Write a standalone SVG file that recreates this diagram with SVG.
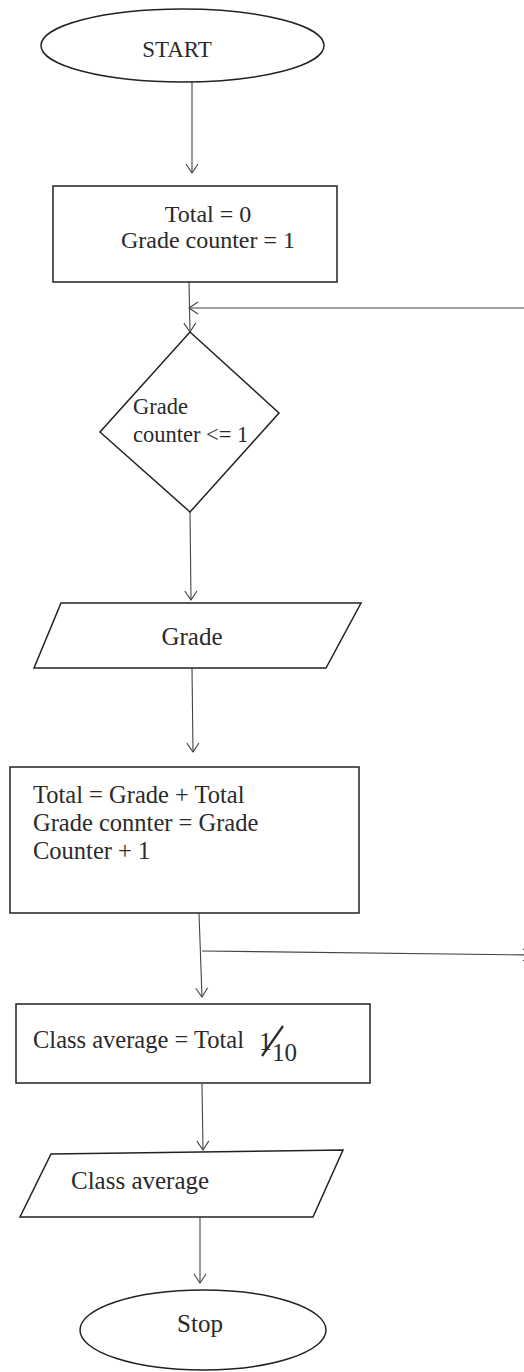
<svg xmlns="http://www.w3.org/2000/svg" width="524" height="1372" viewBox="0 0 524 1372">
<defs>
<style>
.shape{fill:#fff;stroke:#222;stroke-width:1.5}
.conn{fill:none;stroke:#444;stroke-width:1.1}
text{font-family:"Liberation Serif","Times New Roman",serif;fill:#2a2a2a}
</style>
<marker id="arr" markerUnits="userSpaceOnUse" markerWidth="14" markerHeight="14" viewBox="0 0 14 14" refX="11" refY="7" orient="auto">
<polyline points="2,1 11,7 2,13" fill="none" stroke="#444" stroke-width="1.1"/>
</marker>
</defs>
<g id="connectors">
<line class="conn" x1="192" y1="82" x2="192" y2="173" marker-end="url(#arr)"/>
<line class="conn" x1="189" y1="282" x2="190" y2="332" marker-end="url(#arr)"/>
<line class="conn" x1="524" y1="308" x2="189" y2="308" marker-end="url(#arr)"/>
<line class="conn" x1="190" y1="512" x2="191" y2="600" marker-end="url(#arr)"/>
<line class="conn" x1="192" y1="668" x2="193" y2="752" marker-end="url(#arr)"/>
<line class="conn" x1="199" y1="913" x2="202" y2="997" marker-end="url(#arr)"/>
<line class="conn" x1="202" y1="951" x2="532" y2="955" marker-end="url(#arr)"/>
<line class="conn" x1="202" y1="1084" x2="203" y2="1150" marker-end="url(#arr)"/>
<line class="conn" x1="200" y1="1217" x2="200" y2="1283" marker-end="url(#arr)"/>
</g>
<g id="start">
<ellipse class="shape" cx="182.5" cy="45.5" rx="141.5" ry="36.5"/>
<text x="177" y="57" font-size="23" text-anchor="middle">START</text>
</g>
<g id="init">
<rect class="shape" x="53" y="186" width="284" height="96"/>
<text x="208" y="222" font-size="24" text-anchor="middle">Total = 0</text>
<text x="208" y="248" font-size="24" text-anchor="middle">Grade counter = 1</text>
</g>
<g id="decision">
<polygon class="shape" points="190,332 279,413 190,512 100,432"/>
<text x="133" y="414" font-size="22.5">Grade</text>
<text x="133" y="442" font-size="22.5">counter &lt;= 1</text>
</g>
<g id="input-grade">
<polygon class="shape" points="61,603 361,603 326,668 34,668"/>
<text x="192" y="645" font-size="25" text-anchor="middle">Grade</text>
</g>
<g id="update">
<rect class="shape" x="10" y="767" width="349" height="146"/>
<text x="33" y="803" font-size="24.5">Total = Grade + Total</text>
<text x="33" y="831" font-size="24.5">Grade connter = Grade</text>
<text x="33" y="859" font-size="24.5">Counter + 1</text>
</g>
<g id="average">
<rect class="shape" x="16" y="1004" width="354" height="79"/>
<text x="33" y="1048" font-size="24.5">Class average = Total</text>
<text x="259" y="1050" font-size="26">1</text>
<line x1="283" y1="1026" x2="262" y2="1056" stroke="#2a2a2a" stroke-width="2.2"/>
<text x="272" y="1061" font-size="25">10</text>
</g>
<g id="output-average">
<polygon class="shape" points="51,1154 343,1150 313,1217 20,1217"/>
<text x="71" y="1189" font-size="25">Class average</text>
</g>
<g id="stop">
<ellipse class="shape" cx="203" cy="1330" rx="123" ry="40"/>
<text x="200" y="1332" font-size="25" text-anchor="middle">Stop</text>
</g>
</svg>
